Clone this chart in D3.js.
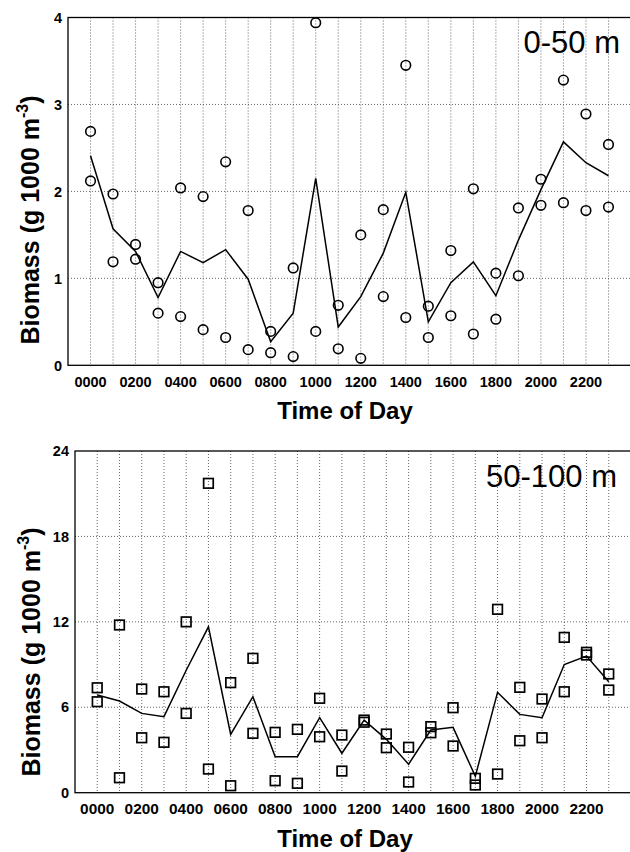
<!DOCTYPE html>
<html>
<head>
<meta charset="utf-8">
<script src="https://cdn.jsdelivr.net/npm/d3@7"></script>
<style>
  html, body { margin: 0; padding: 0; background: #fff; }
  svg { display: block; }
  text { font-family: "Liberation Sans", Arial, Helvetica, sans-serif; fill: #000; }
</style>
</head>
<body>
<svg id="chart" width="630" height="852"></svg>
<script>
// Hour of day (0000 .. 2300)
const hours = [0,1,2,3,4,5,6,7,8,9,10,11,12,13,14,15,16,17,18,19,20,21,22,23];
const xTickHours = [0,2,4,6,8,10,12,14,16,18,20,22];
const xTickLabels = ["0000","0200","0400","0600","0800","1000","1200","1400","1600","1800","2000","2200"];

// 0-50 m layer: two tows per hour and their mean
const shallowTowA = [2.69,1.97,1.39,0.95,2.04,1.94,2.34,1.78,0.39,1.12,3.94,0.69,1.50,1.79,3.45,0.68,1.32,2.03,1.06,1.81,2.14,3.28,2.89,2.54];
const shallowTowB = [2.12,1.19,1.22,0.60,0.56,0.41,0.32,0.18,0.145,0.10,0.39,0.19,0.08,0.79,0.55,0.32,0.57,0.36,0.53,1.03,1.84,1.87,1.78,1.82];
const shallowMean = [2.41,1.57,1.31,0.78,1.31,1.18,1.33,0.99,0.27,0.60,2.15,0.44,0.79,1.29,1.99,0.50,0.95,1.19,0.80,1.44,2.02,2.57,2.33,2.18];
const shallowYTicks = [0,1,2,3,4];

// 50-100 m layer
const deepTowA = [7.37,11.78,7.28,7.09,12.0,21.73,7.73,9.44,4.24,4.45,6.63,4.05,5.10,4.12,3.19,4.64,5.97,1.01,12.88,7.40,6.58,10.91,9.86,8.34];
const deepTowB = [6.39,1.05,3.86,3.54,5.57,1.66,0.49,4.17,0.84,0.66,3.93,1.52,4.95,3.16,0.75,4.21,3.28,0.54,1.31,3.65,3.86,7.09,9.67,7.21];
const deepMean = [6.86,6.44,5.57,5.34,8.6,11.65,4.10,6.74,2.53,2.53,5.27,2.77,5.10,3.75,2.00,4.40,4.59,1.15,7.05,5.50,5.27,9.00,9.60,7.80];
const deepYTicks = [0,6,12,18,24];

const svg = d3.select("#chart");

function panel(cfg) {
  const x = d3.scaleLinear().domain([-1, 24]).range([cfg.left, cfg.right]);
  const y = d3.scaleLinear().domain([0, cfg.yMax]).range([cfg.bottom, cfg.top]);
  const g = svg.append("g");

  // dotted grid
  g.append("g").selectAll("line").data(hours).join("line")
    .attr("x1", d => x(d)).attr("x2", d => x(d))
    .attr("y1", cfg.top).attr("y2", cfg.bottom)
    .attr("stroke", "#555").attr("stroke-width", 0.9).attr("stroke-dasharray", "1,2");
  g.append("g").selectAll("line").data(cfg.yTicks.filter(d => d > 0 && d < cfg.yMax)).join("line")
    .attr("x1", cfg.left).attr("x2", cfg.right)
    .attr("y1", d => y(d)).attr("y2", d => y(d))
    .attr("stroke", "#555").attr("stroke-width", 0.9).attr("stroke-dasharray", "1,2");

  // frame
  g.append("rect")
    .attr("x", cfg.left).attr("y", cfg.top)
    .attr("width", cfg.right - cfg.left).attr("height", cfg.bottom - cfg.top)
    .attr("fill", "none").attr("stroke", "#000").attr("stroke-width", 1.3);

  // y tick labels
  g.append("g").selectAll("text").data(cfg.yTicks).join("text")
    .attr("x", cfg.left - 6).attr("y", d => y(d))
    .attr("dy", "0.36em")
    .attr("text-anchor", "end")
    .attr("font-size", 14.5).attr("font-weight", "bold")
    .text(d => d);

  // x tick labels
  g.append("g").selectAll("text").data(xTickHours).join("text")
    .attr("x", d => x(d)).attr("y", cfg.xLabelY)
    .attr("text-anchor", "middle")
    .attr("font-size", cfg.xTickSize).attr("font-weight", "bold")
    .text((d, i) => xTickLabels[i]);

  // x title
  g.append("text")
    .attr("x", 345).attr("y", cfg.xTitleY)
    .attr("text-anchor", "middle")
    .attr("font-size", 24).attr("font-weight", "bold")
    .text("Time of Day");

  // y title with superscript
  const yt = g.append("text")
    .attr("transform", `translate(${cfg.yTitleX},${cfg.yTitleY}) rotate(-90)`)
    .attr("text-anchor", "middle")
    .attr("font-size", 25).attr("font-weight", "bold");
  yt.append("tspan").text("Biomass (g 1000 m");
  yt.append("tspan").attr("font-size", 16).attr("dy", -11).text("-3");
  yt.append("tspan").attr("dy", 11).text(")");

  // depth label
  g.append("text")
    .attr("x", cfg.labelX).attr("y", cfg.labelY)
    .attr("text-anchor", "end")
    .attr("font-size", 31)
    .text(cfg.label);

  // mean line
  const line = d3.line().x((d, i) => x(hours[i])).y(d => y(d));
  g.append("path").datum(cfg.mean)
    .attr("d", line).attr("fill", "none")
    .attr("stroke", "#000").attr("stroke-width", 1.5).attr("stroke-linejoin", "miter");

  // tow markers
  const pts = hours.map((h, i) => ({h, v: cfg.a[i]})).concat(hours.map((h, i) => ({h, v: cfg.b[i]})));
  if (cfg.marker === "circle") {
    g.append("g").selectAll("circle").data(pts).join("circle")
      .attr("cx", d => x(d.h)).attr("cy", d => y(d.v)).attr("r", 4.8)
      .attr("fill", "none").attr("stroke", "#000").attr("stroke-width", 1.6);
  } else {
    const s = 9.6;
    g.append("g").selectAll("rect").data(pts).join("rect")
      .attr("x", d => x(d.h) - s / 2).attr("y", d => y(d.v) - s / 2)
      .attr("width", s).attr("height", s)
      .attr("fill", "none").attr("stroke", "#000").attr("stroke-width", 1.7);
  }
}

panel({
  left: 68, right: 631, top: 17.5, bottom: 365.3, yMax: 4, yTicks: shallowYTicks,
  xLabelY: 386.5, xTickSize: 14.5, xTitleY: 419, yTitleX: 39, yTitleY: 220,
  label: "0-50 m", labelX: 620, labelY: 53,
  a: shallowTowA, b: shallowTowB, mean: shallowMean, marker: "circle"
});

panel({
  left: 75, right: 631, top: 451, bottom: 792.7, yMax: 24, yTicks: deepYTicks,
  xLabelY: 814, xTickSize: 15.4, xTitleY: 847, yTitleX: 40, yTitleY: 652,
  label: "50-100 m", labelX: 617, labelY: 487,
  a: deepTowA, b: deepTowB, mean: deepMean, marker: "square"
});
</script>
</body>
</html>
